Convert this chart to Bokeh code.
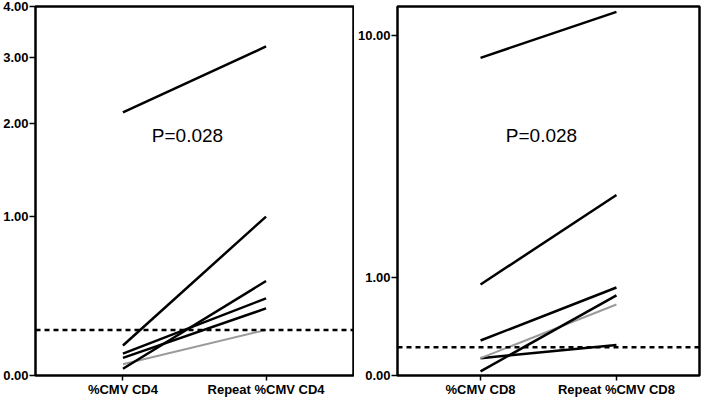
from bokeh.plotting import figure
from bokeh.models import FactorRange, Range1d, FixedTicker, CustomJSTickFormatter, Span, Label, ColumnDataSource
from bokeh.layouts import row
from bokeh.embed import file_html
from bokeh.resources import INLINE

# ---- data ----
cats_cd4 = ["%CMV CD4", "Repeat %CMV CD4"]
cd4_first = [2.15, 0.14, 0.10, 0.08, 0.05, 0.03]
cd4_repeat = [3.20, 1.00, 0.40, 0.34, 0.22, 0.51]
cd4_colors = ["black", "black", "black", "black", "#9a9a9a", "black"]
cd4_ticks = [0, 1, 2, 3, 4]
cd4_max = 4.0

cats_cd8 = ["%CMV CD8", "Repeat %CMV CD8"]
cd8_first = [8.4, 0.90, 0.28, 0.13, 0.13, 0.03]
cd8_repeat = [12.0, 2.57, 0.86, 0.24, 0.65, 0.76]
cd8_colors = ["black", "black", "black", "black", "#9a9a9a", "black"]
cd8_ticks = [0, 1, 10]
cd8_max = 12.5

threshold = [0.22, 0.22]
p_text = ["P=0.028", "P=0.028"]
p_text_y = [1.85, 4.44]

FONT = "Liberation Sans"
OFFSET = 1.0  # log(x+1) scale


def panel(cats, first, repeat, colors, ticks, ymax, thr, ptxt, py, width, bl, br):
    p = figure(x_range=FactorRange(factors=cats, range_padding=0.111),
               y_axis_type="log", y_range=Range1d(OFFSET, ymax + OFFSET),
               width=width, height=399, output_backend="svg", toolbar_location=None,
               min_border_left=bl, min_border_right=br, min_border_top=6, min_border_bottom=22)
    p.outline_line_color = "black"
    p.outline_line_width = 2.5
    p.xgrid.visible = False
    p.ygrid.visible = False
    for ax in (p.xaxis[0], p.yaxis[0]):
        ax.axis_line_color = None
        ax.major_tick_line_color = "black"
        ax.major_tick_line_width = 1.5
        ax.major_tick_out = 6
        ax.major_tick_in = 0
        ax.minor_tick_line_color = None
        ax.major_label_text_font = FONT
        ax.major_label_text_font_style = "bold"
        ax.major_label_text_color = "black"
    p.xaxis.major_tick_out = 5
    p.yaxis.major_label_text_font_size = "13px"
    p.xaxis.major_label_text_font_size = "13px"
    p.yaxis.major_label_standoff = 1
    p.xaxis.major_label_standoff = 1
    p.yaxis.ticker = FixedTicker(ticks=[t + OFFSET for t in ticks])
    p.yaxis.formatter = CustomJSTickFormatter(code="return (tick - 1).toFixed(2);")

    src = ColumnDataSource(dict(
        x0=[cats[0]] * len(first), x1=[cats[1]] * len(first),
        y0=[v + OFFSET for v in first], y1=[v + OFFSET for v in repeat],
        color=colors,
        width=[2.0 if c != "black" else 2.5 for c in colors]))
    p.segment(x0="x0", y0="y0", x1="x1", y1="y1", line_color="color",
              line_width="width", source=src)

    p.add_layout(Span(location=thr + OFFSET, dimension="width", line_color="black",
                      line_width=2.5, line_dash="5 4"))
    p.add_layout(Label(x=1.0, y=py + OFFSET, text=ptxt, x_offset=-7,
                       text_align="center", text_baseline="middle",
                       text_font=FONT, text_font_size="19px", text_color="black"))
    return p


p1 = panel(cats_cd4, cd4_first, cd4_repeat, cd4_colors, cd4_ticks, cd4_max,
           threshold[0], p_text[0], p_text_y[0], 354, 32, 1)
p2 = panel(cats_cd8, cd8_first, cd8_repeat, cd8_colors, cd8_ticks, cd8_max,
           threshold[1], p_text[1], p_text_y[1], 347, 38, 2)

layout = row(p1, p2)
open("out.html", "w").write(file_html(layout, INLINE))
